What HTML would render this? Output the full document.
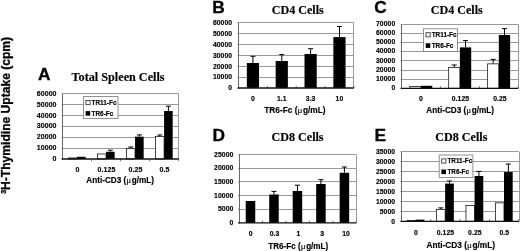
<!DOCTYPE html>
<html><head><meta charset="utf-8"><title>Figure</title>
<style>
html,body{margin:0;padding:0;background:#fff;}
body{width:520px;height:251px;overflow:hidden;font-family:"Liberation Sans",sans-serif;}
svg{display:block;}
.shp{filter:blur(0.2px);}
.txt{filter:blur(0.25px);}
.s{font-family:"Liberation Sans",sans-serif;font-weight:bold;fill:#000;stroke:#000;stroke-width:0.16px;}
.n{letter-spacing:0.08px;}
.L{stroke-width:0.3px;}
.t{font-family:"Liberation Serif",serif;font-weight:bold;fill:#000;stroke:#000;stroke-width:0.15px;}
.mu{font-family:"Liberation Serif",serif;font-weight:normal;stroke-width:0.12px;}
</style></head>
<body>
<svg width="520" height="251" viewBox="0 0 520 251">
<rect x="0" y="0" width="520" height="251" fill="#fff"/>
<g class="shp">
<line x1="62.50" y1="148.50" x2="178.60" y2="148.50" stroke="#9a9a9a" stroke-width="1.0"/>
<line x1="62.50" y1="137.50" x2="178.60" y2="137.50" stroke="#9a9a9a" stroke-width="1.0"/>
<line x1="62.50" y1="126.50" x2="178.60" y2="126.50" stroke="#9a9a9a" stroke-width="1.0"/>
<line x1="62.50" y1="115.50" x2="178.60" y2="115.50" stroke="#9a9a9a" stroke-width="1.0"/>
<line x1="62.50" y1="104.50" x2="178.60" y2="104.50" stroke="#9a9a9a" stroke-width="1.0"/>
<line x1="62.50" y1="93.50" x2="178.60" y2="93.50" stroke="#9a9a9a" stroke-width="1.0"/>
<line x1="178.50" y1="93.90" x2="178.50" y2="159.00" stroke="#9a9a9a" stroke-width="1.0"/>
<line x1="61.70" y1="159.00" x2="62.50" y2="159.00" stroke="#444" stroke-width="0.7"/>
<line x1="61.70" y1="148.15" x2="62.50" y2="148.15" stroke="#444" stroke-width="0.7"/>
<line x1="61.70" y1="137.30" x2="62.50" y2="137.30" stroke="#444" stroke-width="0.7"/>
<line x1="61.70" y1="126.45" x2="62.50" y2="126.45" stroke="#444" stroke-width="0.7"/>
<line x1="61.70" y1="115.60" x2="62.50" y2="115.60" stroke="#444" stroke-width="0.7"/>
<line x1="61.70" y1="104.75" x2="62.50" y2="104.75" stroke="#444" stroke-width="0.7"/>
<line x1="61.70" y1="93.90" x2="62.50" y2="93.90" stroke="#444" stroke-width="0.7"/>
<rect x="68.51" y="157.95" width="8.50" height="1.05" fill="#fff" stroke="#1a1a1a" stroke-width="0.8"/>
<rect x="77.01" y="156.80" width="8.60" height="2.20" fill="#000"/>
<line x1="91.53" y1="159.00" x2="91.53" y2="161.30" stroke="#555" stroke-width="0.8"/>
<rect x="97.54" y="153.95" width="8.50" height="5.05" fill="#fff" stroke="#1a1a1a" stroke-width="0.8"/>
<rect x="106.04" y="151.80" width="8.60" height="7.20" fill="#000"/>
<line x1="110.34" y1="151.80" x2="110.34" y2="150.20" stroke="#000" stroke-width="1.0"/>
<line x1="107.84" y1="150.20" x2="112.84" y2="150.20" stroke="#000" stroke-width="1.0"/>
<line x1="120.55" y1="159.00" x2="120.55" y2="161.30" stroke="#555" stroke-width="0.8"/>
<rect x="126.56" y="148.45" width="8.50" height="10.55" fill="#fff" stroke="#1a1a1a" stroke-width="0.8"/>
<line x1="130.76" y1="148.00" x2="130.76" y2="147.00" stroke="#000" stroke-width="1.0"/>
<line x1="128.26" y1="147.00" x2="133.26" y2="147.00" stroke="#000" stroke-width="1.0"/>
<rect x="135.06" y="136.70" width="8.60" height="22.30" fill="#000"/>
<line x1="139.36" y1="136.70" x2="139.36" y2="134.90" stroke="#000" stroke-width="1.0"/>
<line x1="136.86" y1="134.90" x2="141.86" y2="134.90" stroke="#000" stroke-width="1.0"/>
<line x1="149.57" y1="159.00" x2="149.57" y2="161.30" stroke="#555" stroke-width="0.8"/>
<rect x="155.59" y="136.55" width="8.50" height="22.45" fill="#fff" stroke="#1a1a1a" stroke-width="0.8"/>
<line x1="159.79" y1="136.10" x2="159.79" y2="135.00" stroke="#000" stroke-width="1.0"/>
<line x1="157.29" y1="135.00" x2="162.29" y2="135.00" stroke="#000" stroke-width="1.0"/>
<rect x="164.09" y="111.00" width="8.60" height="48.00" fill="#000"/>
<line x1="168.39" y1="111.00" x2="168.39" y2="106.20" stroke="#000" stroke-width="1.0"/>
<line x1="165.89" y1="106.20" x2="170.89" y2="106.20" stroke="#000" stroke-width="1.0"/>
<line x1="178.60" y1="159.00" x2="178.60" y2="161.30" stroke="#555" stroke-width="0.8"/>
<line x1="62.50" y1="93.90" x2="62.50" y2="159.50" stroke="#555" stroke-width="0.9"/>
<line x1="61.70" y1="159.00" x2="178.60" y2="159.00" stroke="#111" stroke-width="1.35"/>
<rect x="83.40" y="96.60" width="34.60" height="21.90" fill="#fff" stroke="#777" stroke-width="0.8"/>
<rect x="85.90" y="100.50" width="4.20" height="4.20" fill="#fff" stroke="#222" stroke-width="0.8"/>
<rect x="85.60" y="111.10" width="4.60" height="4.60" fill="#000"/>
<line x1="238.50" y1="77.50" x2="353.90" y2="77.50" stroke="#9a9a9a" stroke-width="1.0"/>
<line x1="238.50" y1="66.50" x2="353.90" y2="66.50" stroke="#9a9a9a" stroke-width="1.0"/>
<line x1="238.50" y1="55.50" x2="353.90" y2="55.50" stroke="#9a9a9a" stroke-width="1.0"/>
<line x1="238.50" y1="44.50" x2="353.90" y2="44.50" stroke="#9a9a9a" stroke-width="1.0"/>
<line x1="238.50" y1="33.50" x2="353.90" y2="33.50" stroke="#9a9a9a" stroke-width="1.0"/>
<line x1="238.50" y1="22.50" x2="353.90" y2="22.50" stroke="#9a9a9a" stroke-width="1.0"/>
<line x1="353.50" y1="22.50" x2="353.50" y2="88.00" stroke="#9a9a9a" stroke-width="1.0"/>
<line x1="237.70" y1="88.00" x2="238.50" y2="88.00" stroke="#444" stroke-width="0.7"/>
<line x1="237.70" y1="77.08" x2="238.50" y2="77.08" stroke="#444" stroke-width="0.7"/>
<line x1="237.70" y1="66.17" x2="238.50" y2="66.17" stroke="#444" stroke-width="0.7"/>
<line x1="237.70" y1="55.25" x2="238.50" y2="55.25" stroke="#444" stroke-width="0.7"/>
<line x1="237.70" y1="44.33" x2="238.50" y2="44.33" stroke="#444" stroke-width="0.7"/>
<line x1="237.70" y1="33.42" x2="238.50" y2="33.42" stroke="#444" stroke-width="0.7"/>
<line x1="237.70" y1="22.50" x2="238.50" y2="22.50" stroke="#444" stroke-width="0.7"/>
<rect x="246.83" y="63.00" width="12.20" height="25.00" fill="#000"/>
<line x1="252.93" y1="63.00" x2="252.93" y2="56.30" stroke="#000" stroke-width="1.0"/>
<line x1="250.43" y1="56.30" x2="255.43" y2="56.30" stroke="#000" stroke-width="1.0"/>
<line x1="267.35" y1="88.00" x2="267.35" y2="85.80" stroke="#555" stroke-width="0.8"/>
<rect x="275.67" y="61.00" width="12.20" height="27.00" fill="#000"/>
<line x1="281.77" y1="61.00" x2="281.77" y2="54.60" stroke="#000" stroke-width="1.0"/>
<line x1="279.27" y1="54.60" x2="284.27" y2="54.60" stroke="#000" stroke-width="1.0"/>
<line x1="296.20" y1="88.00" x2="296.20" y2="85.80" stroke="#555" stroke-width="0.8"/>
<rect x="304.52" y="54.00" width="12.20" height="34.00" fill="#000"/>
<line x1="310.62" y1="54.00" x2="310.62" y2="48.70" stroke="#000" stroke-width="1.0"/>
<line x1="308.12" y1="48.70" x2="313.12" y2="48.70" stroke="#000" stroke-width="1.0"/>
<line x1="325.05" y1="88.00" x2="325.05" y2="85.80" stroke="#555" stroke-width="0.8"/>
<rect x="333.37" y="37.10" width="12.20" height="50.90" fill="#000"/>
<line x1="339.47" y1="37.10" x2="339.47" y2="26.50" stroke="#000" stroke-width="1.0"/>
<line x1="336.97" y1="26.50" x2="341.97" y2="26.50" stroke="#000" stroke-width="1.0"/>
<line x1="353.90" y1="88.00" x2="353.90" y2="85.80" stroke="#555" stroke-width="0.8"/>
<line x1="238.50" y1="22.50" x2="238.50" y2="88.50" stroke="#555" stroke-width="0.9"/>
<line x1="237.70" y1="88.00" x2="353.90" y2="88.00" stroke="#111" stroke-width="1.35"/>
<line x1="401.50" y1="79.50" x2="518.30" y2="79.50" stroke="#9a9a9a" stroke-width="1.0"/>
<line x1="401.50" y1="70.50" x2="518.30" y2="70.50" stroke="#9a9a9a" stroke-width="1.0"/>
<line x1="401.50" y1="60.50" x2="518.30" y2="60.50" stroke="#9a9a9a" stroke-width="1.0"/>
<line x1="401.50" y1="51.50" x2="518.30" y2="51.50" stroke="#9a9a9a" stroke-width="1.0"/>
<line x1="401.50" y1="42.50" x2="518.30" y2="42.50" stroke="#9a9a9a" stroke-width="1.0"/>
<line x1="401.50" y1="33.50" x2="518.30" y2="33.50" stroke="#9a9a9a" stroke-width="1.0"/>
<line x1="401.50" y1="24.50" x2="518.30" y2="24.50" stroke="#9a9a9a" stroke-width="1.0"/>
<line x1="518.50" y1="24.40" x2="518.50" y2="88.30" stroke="#9a9a9a" stroke-width="1.0"/>
<line x1="400.70" y1="88.30" x2="401.50" y2="88.30" stroke="#444" stroke-width="0.7"/>
<line x1="400.70" y1="79.17" x2="401.50" y2="79.17" stroke="#444" stroke-width="0.7"/>
<line x1="400.70" y1="70.04" x2="401.50" y2="70.04" stroke="#444" stroke-width="0.7"/>
<line x1="400.70" y1="60.91" x2="401.50" y2="60.91" stroke="#444" stroke-width="0.7"/>
<line x1="400.70" y1="51.79" x2="401.50" y2="51.79" stroke="#444" stroke-width="0.7"/>
<line x1="400.70" y1="42.66" x2="401.50" y2="42.66" stroke="#444" stroke-width="0.7"/>
<line x1="400.70" y1="33.53" x2="401.50" y2="33.53" stroke="#444" stroke-width="0.7"/>
<line x1="400.70" y1="24.40" x2="401.50" y2="24.40" stroke="#444" stroke-width="0.7"/>
<rect x="409.77" y="86.45" width="11.20" height="1.85" fill="#fff" stroke="#1a1a1a" stroke-width="0.8"/>
<rect x="420.97" y="85.80" width="11.30" height="2.50" fill="#000"/>
<line x1="440.43" y1="88.30" x2="440.43" y2="86.10" stroke="#555" stroke-width="0.8"/>
<rect x="448.70" y="67.45" width="11.20" height="20.85" fill="#fff" stroke="#1a1a1a" stroke-width="0.8"/>
<line x1="454.25" y1="67.00" x2="454.25" y2="65.00" stroke="#000" stroke-width="1.0"/>
<line x1="451.75" y1="65.00" x2="456.75" y2="65.00" stroke="#000" stroke-width="1.0"/>
<rect x="459.90" y="47.40" width="11.30" height="40.90" fill="#000"/>
<line x1="465.55" y1="47.40" x2="465.55" y2="40.60" stroke="#000" stroke-width="1.0"/>
<line x1="463.05" y1="40.60" x2="468.05" y2="40.60" stroke="#000" stroke-width="1.0"/>
<line x1="479.37" y1="88.30" x2="479.37" y2="86.10" stroke="#555" stroke-width="0.8"/>
<rect x="487.63" y="63.85" width="11.20" height="24.45" fill="#fff" stroke="#1a1a1a" stroke-width="0.8"/>
<line x1="493.18" y1="63.40" x2="493.18" y2="59.40" stroke="#000" stroke-width="1.0"/>
<line x1="490.68" y1="59.40" x2="495.68" y2="59.40" stroke="#000" stroke-width="1.0"/>
<rect x="498.83" y="35.00" width="11.30" height="53.30" fill="#000"/>
<line x1="504.48" y1="35.00" x2="504.48" y2="28.60" stroke="#000" stroke-width="1.0"/>
<line x1="501.98" y1="28.60" x2="506.98" y2="28.60" stroke="#000" stroke-width="1.0"/>
<line x1="518.30" y1="88.30" x2="518.30" y2="86.10" stroke="#555" stroke-width="0.8"/>
<line x1="401.50" y1="24.40" x2="401.50" y2="88.80" stroke="#555" stroke-width="0.9"/>
<line x1="400.70" y1="88.30" x2="518.30" y2="88.30" stroke="#111" stroke-width="1.35"/>
<rect x="423.50" y="28.80" width="34.00" height="22.60" fill="#fff" stroke="#777" stroke-width="0.8"/>
<rect x="426.00" y="32.70" width="4.20" height="4.20" fill="#fff" stroke="#222" stroke-width="0.8"/>
<rect x="425.70" y="43.30" width="4.60" height="4.60" fill="#000"/>
<line x1="239.00" y1="209.50" x2="356.40" y2="209.50" stroke="#9a9a9a" stroke-width="1.0"/>
<line x1="239.00" y1="195.50" x2="356.40" y2="195.50" stroke="#9a9a9a" stroke-width="1.0"/>
<line x1="239.00" y1="181.50" x2="356.40" y2="181.50" stroke="#9a9a9a" stroke-width="1.0"/>
<line x1="239.00" y1="168.50" x2="356.40" y2="168.50" stroke="#9a9a9a" stroke-width="1.0"/>
<line x1="239.00" y1="154.50" x2="356.40" y2="154.50" stroke="#9a9a9a" stroke-width="1.0"/>
<line x1="356.50" y1="154.70" x2="356.50" y2="222.90" stroke="#9a9a9a" stroke-width="1.0"/>
<line x1="238.20" y1="222.90" x2="239.00" y2="222.90" stroke="#444" stroke-width="0.7"/>
<line x1="238.20" y1="209.26" x2="239.00" y2="209.26" stroke="#444" stroke-width="0.7"/>
<line x1="238.20" y1="195.62" x2="239.00" y2="195.62" stroke="#444" stroke-width="0.7"/>
<line x1="238.20" y1="181.98" x2="239.00" y2="181.98" stroke="#444" stroke-width="0.7"/>
<line x1="238.20" y1="168.34" x2="239.00" y2="168.34" stroke="#444" stroke-width="0.7"/>
<line x1="238.20" y1="154.70" x2="239.00" y2="154.70" stroke="#444" stroke-width="0.7"/>
<rect x="245.74" y="201.00" width="9.50" height="21.90" fill="#000"/>
<line x1="262.48" y1="222.90" x2="262.48" y2="220.70" stroke="#555" stroke-width="0.8"/>
<rect x="269.22" y="194.50" width="9.50" height="28.40" fill="#000"/>
<line x1="273.97" y1="194.50" x2="273.97" y2="191.40" stroke="#000" stroke-width="1.0"/>
<line x1="271.47" y1="191.40" x2="276.47" y2="191.40" stroke="#000" stroke-width="1.0"/>
<line x1="285.96" y1="222.90" x2="285.96" y2="220.70" stroke="#555" stroke-width="0.8"/>
<rect x="292.70" y="191.00" width="9.50" height="31.90" fill="#000"/>
<line x1="297.45" y1="191.00" x2="297.45" y2="185.20" stroke="#000" stroke-width="1.0"/>
<line x1="294.95" y1="185.20" x2="299.95" y2="185.20" stroke="#000" stroke-width="1.0"/>
<line x1="309.44" y1="222.90" x2="309.44" y2="220.70" stroke="#555" stroke-width="0.8"/>
<rect x="316.18" y="184.00" width="9.50" height="38.90" fill="#000"/>
<line x1="320.93" y1="184.00" x2="320.93" y2="179.70" stroke="#000" stroke-width="1.0"/>
<line x1="318.43" y1="179.70" x2="323.43" y2="179.70" stroke="#000" stroke-width="1.0"/>
<line x1="332.92" y1="222.90" x2="332.92" y2="220.70" stroke="#555" stroke-width="0.8"/>
<rect x="339.66" y="172.80" width="9.50" height="50.10" fill="#000"/>
<line x1="344.41" y1="172.80" x2="344.41" y2="167.00" stroke="#000" stroke-width="1.0"/>
<line x1="341.91" y1="167.00" x2="346.91" y2="167.00" stroke="#000" stroke-width="1.0"/>
<line x1="356.40" y1="222.90" x2="356.40" y2="220.70" stroke="#555" stroke-width="0.8"/>
<line x1="239.50" y1="154.70" x2="239.50" y2="223.40" stroke="#555" stroke-width="0.9"/>
<line x1="238.20" y1="222.90" x2="356.40" y2="222.90" stroke="#111" stroke-width="1.35"/>
<line x1="401.30" y1="211.50" x2="519.00" y2="211.50" stroke="#9a9a9a" stroke-width="1.0"/>
<line x1="401.30" y1="201.50" x2="519.00" y2="201.50" stroke="#9a9a9a" stroke-width="1.0"/>
<line x1="401.30" y1="191.50" x2="519.00" y2="191.50" stroke="#9a9a9a" stroke-width="1.0"/>
<line x1="401.30" y1="181.50" x2="519.00" y2="181.50" stroke="#9a9a9a" stroke-width="1.0"/>
<line x1="401.30" y1="171.50" x2="519.00" y2="171.50" stroke="#9a9a9a" stroke-width="1.0"/>
<line x1="401.30" y1="161.50" x2="519.00" y2="161.50" stroke="#9a9a9a" stroke-width="1.0"/>
<line x1="401.30" y1="151.50" x2="519.00" y2="151.50" stroke="#9a9a9a" stroke-width="1.0"/>
<line x1="519.50" y1="151.80" x2="519.50" y2="221.30" stroke="#9a9a9a" stroke-width="1.0"/>
<line x1="400.50" y1="221.30" x2="401.30" y2="221.30" stroke="#444" stroke-width="0.7"/>
<line x1="400.50" y1="211.37" x2="401.30" y2="211.37" stroke="#444" stroke-width="0.7"/>
<line x1="400.50" y1="201.44" x2="401.30" y2="201.44" stroke="#444" stroke-width="0.7"/>
<line x1="400.50" y1="191.51" x2="401.30" y2="191.51" stroke="#444" stroke-width="0.7"/>
<line x1="400.50" y1="181.59" x2="401.30" y2="181.59" stroke="#444" stroke-width="0.7"/>
<line x1="400.50" y1="171.66" x2="401.30" y2="171.66" stroke="#444" stroke-width="0.7"/>
<line x1="400.50" y1="161.73" x2="401.30" y2="161.73" stroke="#444" stroke-width="0.7"/>
<line x1="400.50" y1="151.80" x2="401.30" y2="151.80" stroke="#444" stroke-width="0.7"/>
<rect x="407.11" y="220.45" width="8.60" height="0.85" fill="#fff" stroke="#1a1a1a" stroke-width="0.8"/>
<rect x="415.71" y="219.60" width="8.70" height="1.70" fill="#000"/>
<line x1="430.73" y1="221.30" x2="430.73" y2="219.10" stroke="#555" stroke-width="0.8"/>
<rect x="436.54" y="209.45" width="8.60" height="11.85" fill="#fff" stroke="#1a1a1a" stroke-width="0.8"/>
<line x1="440.79" y1="209.00" x2="440.79" y2="207.90" stroke="#000" stroke-width="1.0"/>
<line x1="438.29" y1="207.90" x2="443.29" y2="207.90" stroke="#000" stroke-width="1.0"/>
<rect x="445.14" y="183.60" width="8.70" height="37.70" fill="#000"/>
<line x1="449.49" y1="183.60" x2="449.49" y2="181.00" stroke="#000" stroke-width="1.0"/>
<line x1="446.99" y1="181.00" x2="451.99" y2="181.00" stroke="#000" stroke-width="1.0"/>
<line x1="460.15" y1="221.30" x2="460.15" y2="219.10" stroke="#555" stroke-width="0.8"/>
<rect x="465.96" y="205.45" width="8.60" height="15.85" fill="#fff" stroke="#1a1a1a" stroke-width="0.8"/>
<rect x="474.56" y="176.00" width="8.70" height="45.30" fill="#000"/>
<line x1="478.91" y1="176.00" x2="478.91" y2="171.40" stroke="#000" stroke-width="1.0"/>
<line x1="476.41" y1="171.40" x2="481.41" y2="171.40" stroke="#000" stroke-width="1.0"/>
<line x1="489.57" y1="221.30" x2="489.57" y2="219.10" stroke="#555" stroke-width="0.8"/>
<rect x="495.39" y="202.85" width="8.60" height="18.45" fill="#fff" stroke="#1a1a1a" stroke-width="0.8"/>
<rect x="503.99" y="172.00" width="8.70" height="49.30" fill="#000"/>
<line x1="508.34" y1="172.00" x2="508.34" y2="164.00" stroke="#000" stroke-width="1.0"/>
<line x1="505.84" y1="164.00" x2="510.84" y2="164.00" stroke="#000" stroke-width="1.0"/>
<line x1="519.00" y1="221.30" x2="519.00" y2="219.10" stroke="#555" stroke-width="0.8"/>
<line x1="401.50" y1="151.80" x2="401.50" y2="221.80" stroke="#555" stroke-width="0.9"/>
<line x1="400.50" y1="221.30" x2="519.00" y2="221.30" stroke="#111" stroke-width="1.35"/>
<rect x="439.20" y="155.00" width="33.70" height="22.50" fill="#fff" stroke="#777" stroke-width="0.8"/>
<rect x="441.70" y="158.90" width="4.20" height="4.20" fill="#fff" stroke="#222" stroke-width="0.8"/>
<rect x="441.40" y="169.50" width="4.60" height="4.60" fill="#000"/>
</g>
<g class="txt">
<text x="56.60" y="161.00" font-size="7.0" text-anchor="end" class="s n">0</text>
<text x="56.60" y="150.15" font-size="7.0" text-anchor="end" class="s n">10000</text>
<text x="56.60" y="139.30" font-size="7.0" text-anchor="end" class="s n">20000</text>
<text x="56.60" y="128.45" font-size="7.0" text-anchor="end" class="s n">30000</text>
<text x="56.60" y="117.60" font-size="7.0" text-anchor="end" class="s n">40000</text>
<text x="56.60" y="106.75" font-size="7.0" text-anchor="end" class="s n">50000</text>
<text x="56.60" y="95.90" font-size="7.0" text-anchor="end" class="s n">60000</text>
<text x="77.51" y="172.00" font-size="7.0" text-anchor="middle" class="s n">0</text>
<text x="106.54" y="172.00" font-size="7.0" text-anchor="middle" class="s n">0.125</text>
<text x="135.56" y="172.00" font-size="7.0" text-anchor="middle" class="s n">0.25</text>
<text x="164.59" y="172.00" font-size="7.0" text-anchor="middle" class="s n">0.5</text>
<text x="86.30" y="182.80" font-size="8.2" text-anchor="start" class="s">Anti-CD3 (<tspan class="mu" font-size="9.2">μ</tspan><tspan dx='0.5'>g/mL)</tspan></text>
<text transform="translate(38.00,80.00) scale(1.07,1)" font-size="16.2" class="s L">A</text>
<text x="71.60" y="81.40" font-size="12.2" text-anchor="start" class="t">Total Spleen Cells</text>
<text x="91.60" y="105.00" font-size="6.4" text-anchor="start" class="s">TR11-Fc</text>
<text x="91.60" y="115.70" font-size="6.4" text-anchor="start" class="s">TR6-Fc</text>
<text x="232.20" y="90.40" font-size="6.8" text-anchor="end" class="s n">0</text>
<text x="232.20" y="79.48" font-size="6.8" text-anchor="end" class="s n">10000</text>
<text x="232.20" y="68.57" font-size="6.8" text-anchor="end" class="s n">20000</text>
<text x="232.20" y="57.65" font-size="6.8" text-anchor="end" class="s n">30000</text>
<text x="232.20" y="46.73" font-size="6.8" text-anchor="end" class="s n">40000</text>
<text x="232.20" y="35.82" font-size="6.8" text-anchor="end" class="s n">50000</text>
<text x="232.20" y="24.90" font-size="6.8" text-anchor="end" class="s n">60000</text>
<text x="252.93" y="101.20" font-size="6.8" text-anchor="middle" class="s n">0</text>
<text x="281.77" y="101.20" font-size="6.8" text-anchor="middle" class="s n">1.1</text>
<text x="310.62" y="101.20" font-size="6.8" text-anchor="middle" class="s n">3.3</text>
<text x="339.47" y="101.20" font-size="6.8" text-anchor="middle" class="s n">10</text>
<text x="264.30" y="113.40" font-size="8.3" text-anchor="start" class="s">TR6-Fc (<tspan class="mu" font-size="9.2">μ</tspan><tspan dx='0.5'>g/mL)</tspan></text>
<text transform="translate(212.20,13.20) scale(1.07,1)" font-size="16.2" class="s L">B</text>
<text x="271.70" y="14.20" font-size="12.1" text-anchor="start" class="t">CD4 Cells</text>
<text x="395.30" y="90.00" font-size="6.8" text-anchor="end" class="s n">0</text>
<text x="395.30" y="80.87" font-size="6.8" text-anchor="end" class="s n">10000</text>
<text x="395.30" y="71.74" font-size="6.8" text-anchor="end" class="s n">20000</text>
<text x="395.30" y="62.61" font-size="6.8" text-anchor="end" class="s n">30000</text>
<text x="395.30" y="53.49" font-size="6.8" text-anchor="end" class="s n">40000</text>
<text x="395.30" y="44.36" font-size="6.8" text-anchor="end" class="s n">50000</text>
<text x="395.30" y="35.23" font-size="6.8" text-anchor="end" class="s n">60000</text>
<text x="395.30" y="26.10" font-size="6.8" text-anchor="end" class="s n">70000</text>
<text x="420.97" y="100.70" font-size="6.8" text-anchor="middle" class="s n">0</text>
<text x="460.45" y="100.70" font-size="6.8" text-anchor="middle" class="s n">0.125</text>
<text x="499.93" y="100.70" font-size="6.8" text-anchor="middle" class="s n">0.25</text>
<text x="426.30" y="112.60" font-size="8.2" text-anchor="start" class="s">Anti-CD3 (<tspan class="mu" font-size="9.2">μ</tspan><tspan dx='0.5'>g/mL)</tspan></text>
<text transform="translate(374.20,13.20) scale(1.07,1)" font-size="16.2" class="s L">C</text>
<text x="430.70" y="13.60" font-size="12.1" text-anchor="start" class="t">CD4 Cells</text>
<text x="431.70" y="37.20" font-size="6.4" text-anchor="start" class="s">TR11-Fc</text>
<text x="431.70" y="47.90" font-size="6.4" text-anchor="start" class="s">TR6-Fc</text>
<text x="233.40" y="224.80" font-size="6.8" text-anchor="end" class="s n">0</text>
<text x="233.40" y="211.16" font-size="6.8" text-anchor="end" class="s n">5000</text>
<text x="233.40" y="197.52" font-size="6.8" text-anchor="end" class="s n">10000</text>
<text x="233.40" y="183.88" font-size="6.8" text-anchor="end" class="s n">15000</text>
<text x="233.40" y="170.24" font-size="6.8" text-anchor="end" class="s n">20000</text>
<text x="233.40" y="156.60" font-size="6.8" text-anchor="end" class="s n">25000</text>
<text x="250.74" y="235.50" font-size="6.8" text-anchor="middle" class="s n">0</text>
<text x="274.57" y="235.50" font-size="6.8" text-anchor="middle" class="s n">0.3</text>
<text x="298.40" y="235.50" font-size="6.8" text-anchor="middle" class="s n">1</text>
<text x="322.23" y="235.50" font-size="6.8" text-anchor="middle" class="s n">3</text>
<text x="346.06" y="235.50" font-size="6.8" text-anchor="middle" class="s n">10</text>
<text x="268.20" y="248.50" font-size="8.15" text-anchor="start" class="s">TR6-Fc (<tspan class="mu" font-size="9.2">μ</tspan><tspan dx='0.5'>g/mL)</tspan></text>
<text transform="translate(212.60,141.00) scale(1.07,1)" font-size="16.2" class="s L">D</text>
<text x="271.50" y="140.70" font-size="12.1" text-anchor="start" class="t">CD8 Cells</text>
<text x="395.20" y="223.70" font-size="6.8" text-anchor="end" class="s n">0</text>
<text x="395.20" y="213.77" font-size="6.8" text-anchor="end" class="s n">5000</text>
<text x="395.20" y="203.84" font-size="6.8" text-anchor="end" class="s n">10000</text>
<text x="395.20" y="193.91" font-size="6.8" text-anchor="end" class="s n">15000</text>
<text x="395.20" y="183.99" font-size="6.8" text-anchor="end" class="s n">20000</text>
<text x="395.20" y="174.06" font-size="6.8" text-anchor="end" class="s n">25000</text>
<text x="395.20" y="164.13" font-size="6.8" text-anchor="end" class="s n">30000</text>
<text x="395.20" y="154.20" font-size="6.8" text-anchor="end" class="s n">35000</text>
<text x="416.01" y="234.60" font-size="6.8" text-anchor="middle" class="s n">0</text>
<text x="445.44" y="234.60" font-size="6.8" text-anchor="middle" class="s n">0.125</text>
<text x="474.86" y="234.60" font-size="6.8" text-anchor="middle" class="s n">0.25</text>
<text x="504.29" y="234.60" font-size="6.8" text-anchor="middle" class="s n">0.5</text>
<text x="426.40" y="247.50" font-size="8.3" text-anchor="start" class="s">Anti-CD3 (<tspan class="mu" font-size="9.2">μ</tspan><tspan dx='0.5'>g/mL)</tspan></text>
<text transform="translate(374.60,141.00) scale(1.07,1)" font-size="16.2" class="s L">E</text>
<text x="435.30" y="140.80" font-size="12.1" text-anchor="start" class="t">CD8 Cells</text>
<text x="447.40" y="163.40" font-size="6.4" text-anchor="start" class="s">TR11-Fc</text>
<text x="447.40" y="174.10" font-size="6.4" text-anchor="start" class="s">TR6-Fc</text>
<text transform="translate(9.8,193.8) rotate(-90)" font-size="12.08" class="s L"><tspan font-size="7" dy="-4.2">3</tspan><tspan dy="4.2">H-Thymidine Uptake (cpm)</tspan></text>
</g>
</svg>
</body></html>
